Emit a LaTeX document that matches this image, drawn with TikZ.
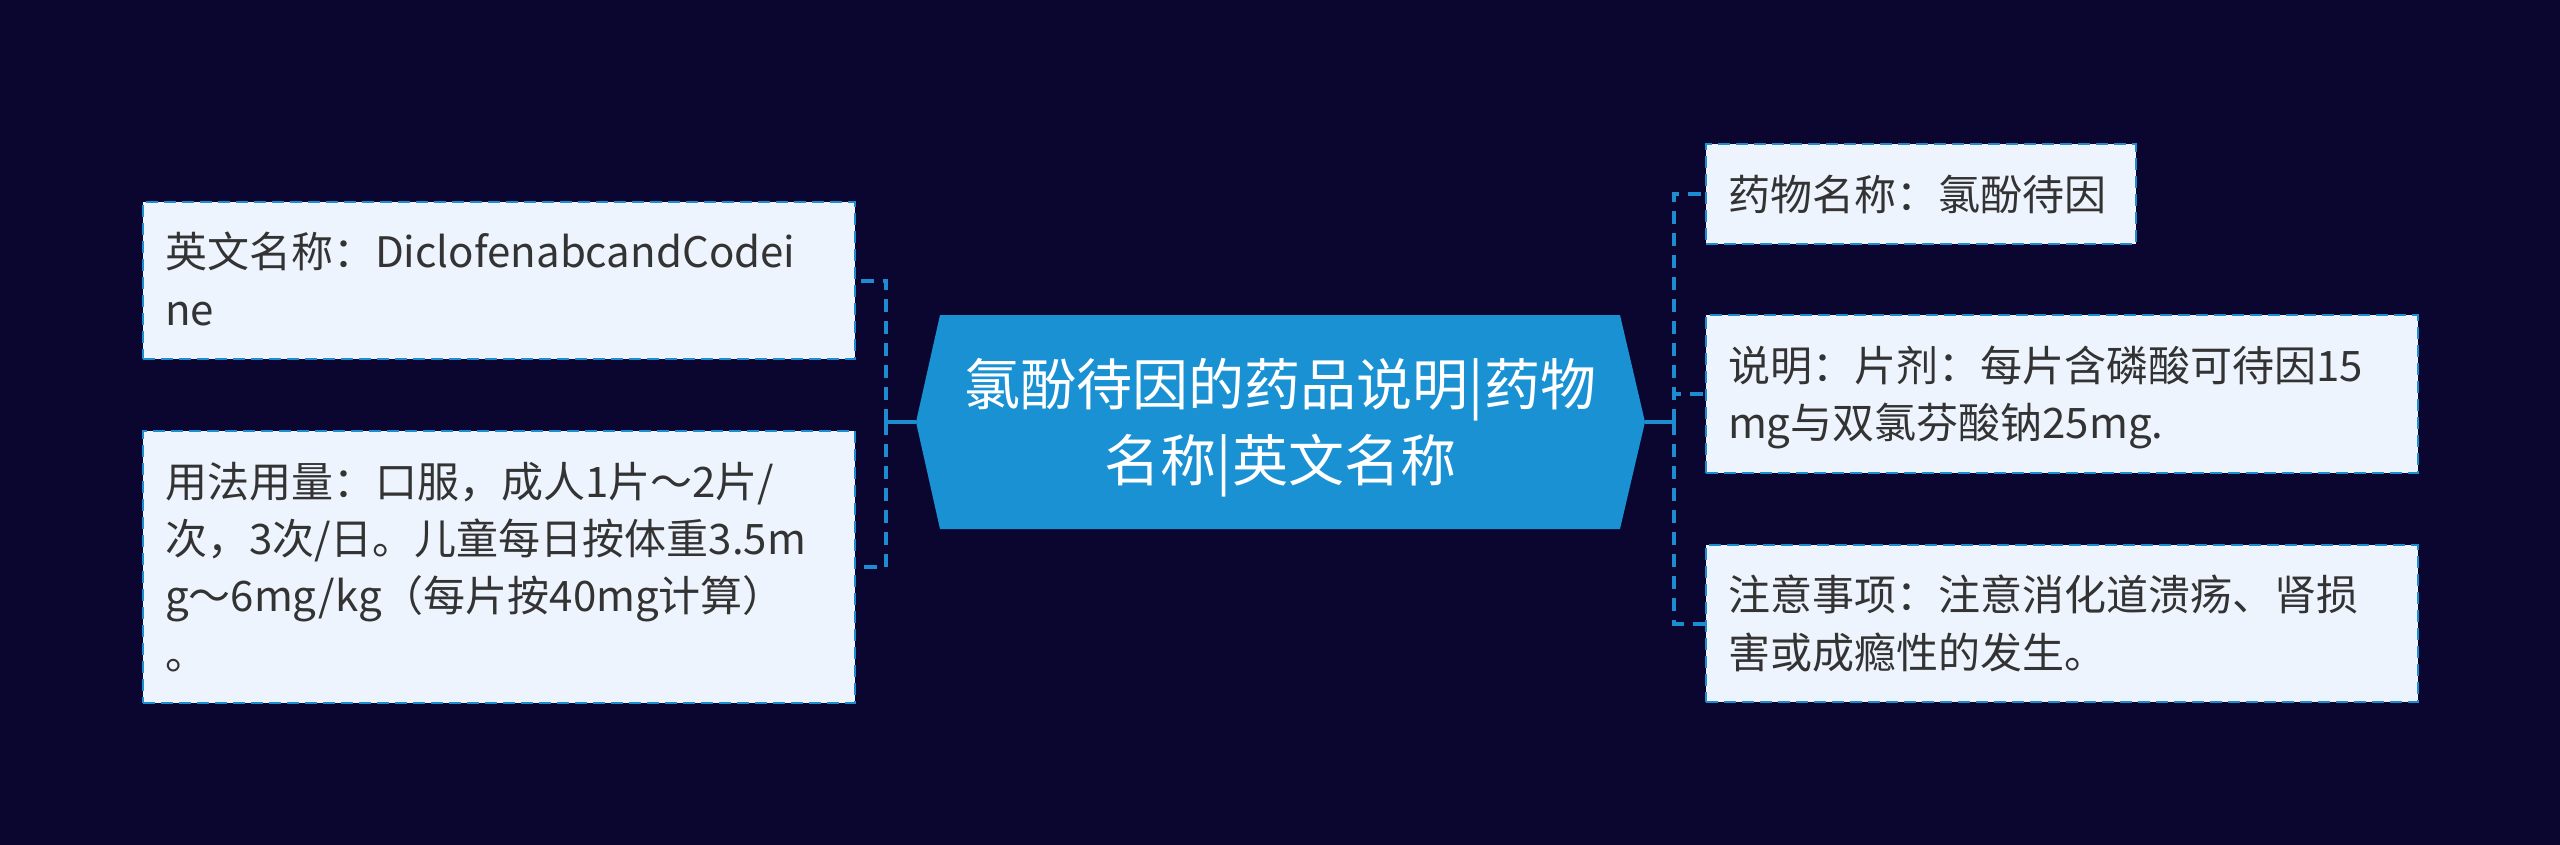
\documentclass[tikz,border=0pt]{standalone}
\usepackage{fontspec}
\setmainfont{Noto Sans CJK SC}
\definecolor{bgc}{HTML}{0A0630}
\definecolor{hexc}{HTML}{1A91D2}
\definecolor{boxc}{HTML}{EEF4FE}
\definecolor{edgec}{HTML}{1E8CD0}
\definecolor{txtc}{HTML}{333333}
\newcommand\lstr{\rule[-12.6pt]{0pt}{57.3pt}}
\newcommand\cstr{\rule[-16.7pt]{0pt}{76pt}}
\tikzset{
  leaf/.style n args={2}{rectangle, draw=edgec, line width=2pt,
    dash pattern=on 12pt off 6pt, fill=boxc, anchor=north west,
    inner xsep=22pt, inner ysep=0pt, text width=#1, minimum height=#2,
    align=left, text=txtc, font=\fontsize{42}{57.3}\selectfont},
  centre/.style={rectangle, inner sep=0pt, minimum width=729pt,
    minimum height=214pt, text width=700pt, align=center, text=white,
    font=\fontsize{56}{76}\selectfont},
  conn/.style={draw=edgec, line width=4pt, dash pattern=on 13pt off 9pt},
  stub/.style={draw=edgec, line width=4pt}
}
\begin{document}
\begin{tikzpicture}[x=1pt,y=-1pt]
\fill[bgc] (0,0) rectangle (2560,845);
\useasboundingbox (0,0) rectangle (2560,845);
\fill[hexc] (916,422) -- (940,315) -- (1620,315) -- (1645,422) -- (1620,529) -- (940,529) -- cycle;
\node[centre] (c) at (1280.5,422) {\cstr 氯酚待因的药品说明|药物\\\cstr 名称|英文名称};
\node[leaf={668pt}{157pt}] (L1) at (142,201) {\lstr 英文名称：DiclofenabcandCodei\\\lstr ne};
\node[leaf={668pt}{272pt}] (L2) at (142,430) {\lstr 用法用量：口服，成人1片～2片/\\\lstr 次，3次/日。儿童每日按体重3.5m\\\lstr g～6mg/kg（每片按40mg计算）\\\lstr 。};
\node[leaf={386pt}{100pt}] (R1) at (1705,143) {\lstr 药物名称：氯酚待因};
\node[leaf={668pt}{158pt}] (R2) at (1705,314) {\lstr 说明：片剂：每片含磷酸可待因15\\\lstr mg与双氯芬酸钠25mg.};
\node[leaf={668pt}{157pt}] (R3) at (1705,544) {\lstr 注意事项：注意消化道溃疡、肾损\\\lstr 害或成瘾性的发生。};
\coordinate (lj) at (886,422);
\coordinate (rj) at (1674,422);
\draw[stub] (c.west) -- (lj);
\draw[stub] (c.east) -- (rj);
\draw[conn] (lj) |- (L1.east);
\draw[conn] (lj) |- (L2.east);
\draw[conn] (rj) |- (R1.west);
\draw[conn] (rj) |- (R2.west);
\draw[conn] (rj) |- (R3.west);
\end{tikzpicture}
\end{document}
